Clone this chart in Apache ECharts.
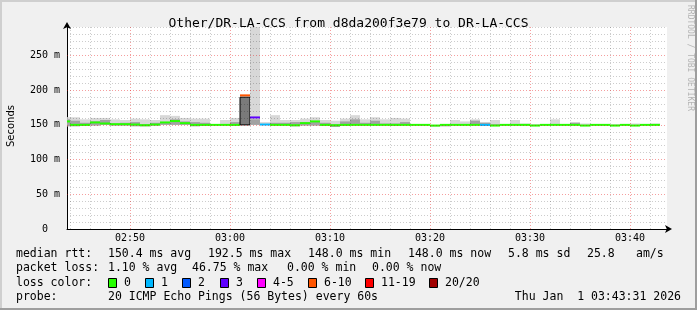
<!DOCTYPE html>
<html><head><meta charset="utf-8">
<script src="https://cdn.jsdelivr.net/npm/echarts@6/dist/echarts.min.js"></script>
<style>html,body{margin:0;padding:0;background:#f0f0f0}#c{width:697px;height:310px}</style>
</head><body><div id="c"></div>
<script>
// ---- data (minutes after 02:40) ----
const minutes = [3,4,5,6,7,8,9,10,11,12,13,14,15,16,17,18,19,20,21,22,23,24,25,26,27,28,29,30,31,32,33,34,35,36,37,38,39,40,41,42,43,44,45,46,47,48,49,50,51,52,53,54,55,56,57,58,59,60,61,62];
const medianMs = [155,150,150,153.5,152,151,151,150.5,149.5,150.5,
  153.5,155.5,152.5,150,150,150,150,150,192.5,160.7,
  150.5,150,150,149.5,152.5,155,150,149.5,150,150,
  150,150,150,150,150,150,150,149,150,150,
  150,150,150,149,150,150,150,149,150,150,
  150,150,149,150,150,149,150,149,150,150];
const lossIdx = [0,0,0,0,0,0,0,0,0,0,
  0,0,0,0,0,0,0,0,5,3,
  1,0,0,0,0,0,0,0,0,0,
  0,0,0,0,0,0,0,0,0,0,
  0,0,1,0,0,0,0,0,0,0,
  0,0,0,0,0,0,0,0,0,0];
const smokeLo = [148,148,149,149,150,149,149,148,148,149,
  150,150,150,148,149,150,150,149,150,150,
  150,150,150,148,149,149,149,147,149,150,
  150,150,150,149,150,150,150,148,148,150,
  150,150,149,149,150,150,150,149,150,150,
  150,150,149,150,150,149,150,149,150,150];
const smokeHi = [161,161,158,160,160,158,157,159,158,157,
  164,163,160,159,159,150,157,160,190,300,
  154,164,157,157,159,161,157,156,159,164,
  158,161,158,160,159,151,151,150,151,157,
  155,158,154,157,150,157,152,151,151,158,
  151,154,152,151,151,151,150,152,150,152];
const smokeDark = [158,156,153,155,157,152,153,154,151,153,
  154,158,155,154,153,150,151,154,190,158,
  151,153,153,154,154,155,153,151,155,158,
  153,156,152,152,154,151,150,149,149,151,
  151,156,153,151,150,151,151,150,150,151,
  150,153,150,150,150,150,150,150,150,150];
const yTicks = [0,50,100,150,200,250];
const yMinor = [10,20,30,40,60,70,80,90,110,120,130,140,160,170,180,190,210,220,230,240,260,270,280,290];
const xMajor = [10,20,30,40,50,60];
const xLabels = ['02:50','03:00','03:10','03:20','03:30','03:40'];
const xMinor = [4,6,8,12,14,16,18,22,24,26,28,32,34,36,38,42,44,46,48,52,54,56,58,62];
const lossLabels = ['0','1','2','3','4-5','6-10','11-19','20/20'];
const lossColors = ['#26ff00','#00b8ff','#0059ff','#5e00ff','#ff00ff','#ff5500','#ff0000','#a10000'];
const titleText = 'Other/DR-LA-CCS from d8da200f3e79 to DR-LA-CCS';
const rttStats = ['150.4 ms avg','192.5 ms max','148.0 ms min','148.0 ms now','5.8 ms sd','25.8','am/s'];
const lossStats = ['1.10 % avg','46.75 % max','0.00 % min','0.00 % now'];
const probeText = '20 ICMP Echo Pings (56 Bytes) every 60s';
const dateText = 'Thu Jan  1 03:43:31 2026';

// ---- chart ----
const MONO = 'DejaVu Sans Mono';
const chart = echarts.init(document.getElementById('c'), null, {renderer:'canvas'});
const rows = minutes.map((m,i)=>[m, smokeLo[i], smokeHi[i], smokeDark[i], medianMs[i], lossIdx[i]]);

function renderItem(params, api){
  const t=api.value(0), lo=api.value(1), hi=api.value(2), dk=api.value(3), med=api.value(4), loss=api.value(5);
  const w = api.size([1,0])[0];
  const x = api.coord([t,0])[0];
  const yLo=api.coord([t,lo])[1], yHi=api.coord([t,hi])[1], yDk=api.coord([t,dk])[1], yMed=api.coord([t,med])[1];
  const ch=[];
  if (hi>lo) ch.push({type:'rect',shape:{x:x,y:yHi,width:w,height:yLo-yHi},style:{fill:'#d8d8d8'}});
  if (dk>lo) {
    const big = (dk-lo)>20;
    ch.push({type:'rect',shape:{x:x,y:yDk,width:w,height:yLo-yDk},
      style: big?{fill:'#7a7a7a',stroke:'#000',lineWidth:1}:{fill:'#a2a2a2'}});
  }
  ch.push({type:'rect',shape:{x:x,y:yMed-1,width:w,height:2},style:{fill:lossColors[loss]}});
  return {type:'group',children:ch};
}

const g = [];
// frame
g.push({type:'line',shape:{x1:0,y1:1,x2:697,y2:1},style:{stroke:'#cfcfcf',lineWidth:2},z:100});
g.push({type:'line',shape:{x1:1,y1:0,x2:1,y2:310},style:{stroke:'#cfcfcf',lineWidth:2},z:100});
g.push({type:'line',shape:{x1:0,y1:309,x2:697,y2:309},style:{stroke:'#9e9e9e',lineWidth:2},z:100});
g.push({type:'line',shape:{x1:696,y1:0,x2:696,y2:310},style:{stroke:'#9e9e9e',lineWidth:2},z:100});
// watermark
g.push({type:'text',x:690,y:5,rotation:-Math.PI/2,style:{text:'RRDTOOL / TOBI OETIKER',font:'8px '+MONO,fill:'#b4b4b4',align:'left',verticalAlign:'middle'}});
// y title
g.push({type:'text',x:11,y:126,rotation:Math.PI/2,style:{text:'Seconds',font:'10px "DejaVu Sans"',fill:'#000',align:'center',verticalAlign:'middle'}});
const F = '11.5px '+MONO;
function txt(s,x,y,align){ g.push({type:'text',x:x,y:y,style:{text:s,font:F,fill:'#000',align:align||'left',verticalAlign:'middle'}}); }
txt('median rtt:',16,254);
[108,208,308,408,508,587,636].forEach((x,i)=>txt(rttStats[i],x,254));
txt('packet loss:',16,268);
[108,192,287,372].forEach((x,i)=>txt(lossStats[i],x,268));
txt('loss color:',16,283);
[108,145,182,220,257,308,365,429].forEach((x,i)=>{
  g.push({type:'rect',shape:{x:x+0.5,y:278.5,width:8,height:9},style:{fill:lossColors[i],stroke:'#000',lineWidth:1}});
  txt(lossLabels[i],x+16,283);
});
txt('probe:',16,297);
txt(probeText,108,297);
txt(dateText,681,297,'right');

const gridMinor = {color:'rgba(0,0,0,0.2)',type:[1,2],width:1};
const gridMajor = {color:'rgba(228,0,0,0.38)',type:[1,2],width:1};

chart.setOption({
  animation:false,
  backgroundColor:'#f0f0f0',
  title:{text:titleText,left:'center',top:12,textStyle:{fontFamily:MONO,fontSize:13,fontWeight:'normal',color:'#000'}},
  grid:{left:67,right:30,top:27,bottom:81,show:true,backgroundColor:'#fff',borderWidth:0},
  xAxis:{type:'value',min:3.7,max:63.7,splitNumber:6,
    axisLine:{show:true,lineStyle:{color:'#000',width:1},symbol:['none','arrow'],symbolSize:[6,7],symbolOffset:[0,5]},
    axisTick:{show:false},splitLine:{show:false},
    axisLabel:{customValues:xMajor,margin:4,fontFamily:MONO,fontSize:10,color:'#000',
      formatter:v=>{const k=xMajor.findIndex(m=>Math.abs(m-v)<1e-6);return k>=0?xLabels[k]:'';}}},
  yAxis:{type:'value',min:0,max:291,interval:50,
    axisLine:{show:true,lineStyle:{color:'#000',width:1},symbol:['none','arrow'],symbolSize:[6,7],symbolOffset:[0,5]},
    axisTick:{show:false},splitLine:{show:false},
    axisLabel:{showMaxLabel:false,margin:7,fontFamily:MONO,fontSize:10,color:'#000',
      formatter:v=>{if(!yTicks.includes(v))return '';return v===0?'0  ':v+' m';}}},
  graphic:g,
  series:[
    {type:'line',data:[],silent:true,z:1,markLine:{silent:true,symbol:['none','none'],label:{show:false},animation:false,
      lineStyle:gridMinor,
      data:yMinor.map(v=>({yAxis:v})).concat(xMinor.map(v=>({xAxis:v})))}},
    {type:'line',data:[],silent:true,z:1,markLine:{silent:true,symbol:['none','none'],label:{show:false},animation:false,
      lineStyle:gridMajor,
      data:yTicks.filter(v=>v>0).map(v=>({yAxis:v})).concat(xMajor.map(v=>({xAxis:v})))}},
    {type:'custom',renderItem:renderItem,data:rows,clip:true,z:3,encode:{x:0,y:4}}
  ]
});
</script></body></html>
